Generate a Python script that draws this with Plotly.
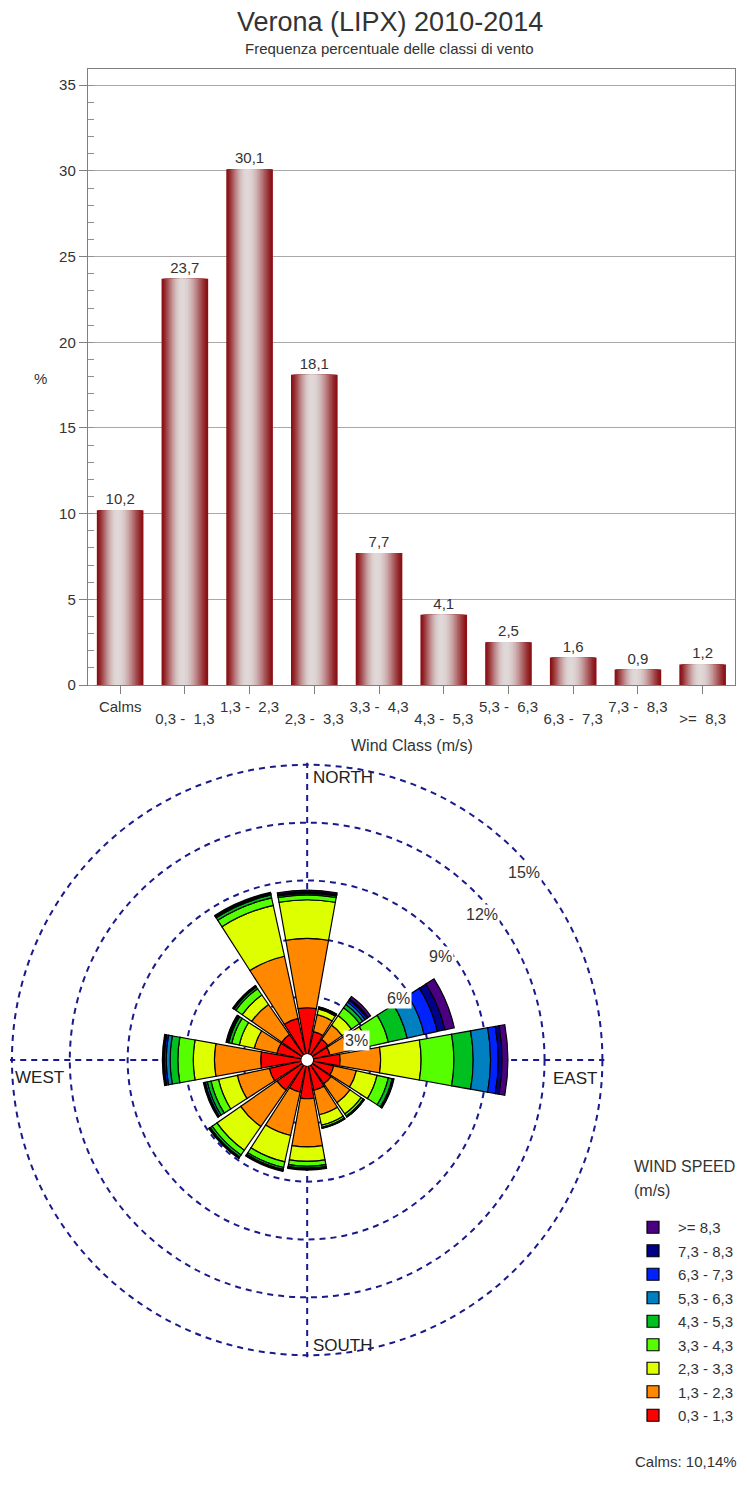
import plotly.graph_objects as go
import numpy as np

# ---------------- Bar chart data ----------------
wind_classes = ["Calms", "0,3 -  1,3", "1,3 -  2,3", "2,3 -  3,3", "3,3 -  4,3",
                "4,3 -  5,3", "5,3 -  6,3", "6,3 -  7,3", "7,3 -  8,3", ">=  8,3"]
class_freq = [10.2, 23.7, 30.1, 18.1, 7.7, 4.1, 2.5, 1.6, 0.9, 1.2]

# ---------------- Wind rose data ----------------
directions = ["N", "NNE", "NE", "ENE", "E", "ESE", "SE", "SSE",
              "S", "SSW", "SW", "WSW", "W", "WNW", "NW", "NNW"]
speed_03_13 = [2.4, 1.2, 1.0, 0.9, 1.4, 1.1, 1.2, 1.3, 1.7, 1.4, 1.6, 1.7, 2.1, 1.3, 1.3, 1.9]
speed_13_23 = [3.6, 0.9, 0.9, 1.0, 2.1, 1.2, 1.2, 1.3, 2.5, 2.3, 2.3, 1.7, 2.4, 1.2, 1.9, 3.3]
speed_23_33 = [2.0, 0.3, 0.6, 1.0, 2.1, 1.1, 0.7, 0.55, 0.75, 1.4, 1.5, 1.0, 1.1, 0.8, 0.6, 2.7]
speed_33_43 = [0.25, 0.05, 0.5, 1.1, 1.7, 0.6, 0.13, 0.12, 0.25, 0.3, 0.3, 0.4, 0.8, 0.4, 0.4, 0.4]
speed_43_53 = [0.08, 0.02, 0.2, 1.0, 1.0, 0.2, 0.04, 0.03, 0.1, 0.1, 0.12, 0.2, 0.4, 0.15, 0.1, 0.15]
speed_53_63 = [0.04, 0.01, 0.15, 0.9, 0.9, 0.05, 0.01, 0.01, 0.04, 0.04, 0.04, 0.1, 0.2, 0.06, 0.04, 0.05]
speed_63_73 = [0.03, 0.01, 0.12, 0.7, 0.4, 0.02, 0.01, 0.0, 0.02, 0.02, 0.02, 0.05, 0.1, 0.04, 0.02, 0.02]
speed_73_83 = [0.02, 0.01, 0.08, 0.4, 0.2, 0.01, 0.0, 0.0, 0.01, 0.01, 0.01, 0.02, 0.05, 0.02, 0.01, 0.02]
speed_ge_83 = [0.08, 0.02, 0.15, 0.5, 0.3, 0.02, 0.01, 0.01, 0.03, 0.03, 0.02, 0.03, 0.05, 0.03, 0.03, 0.05]

rose_series = [speed_03_13, speed_13_23, speed_23_33, speed_33_43, speed_43_53,
               speed_53_63, speed_63_73, speed_73_83, speed_ge_83]
rose_labels = ["0,3 - 1,3", "1,3 - 2,3", "2,3 - 3,3", "3,3 - 4,3", "4,3 - 5,3",
               "5,3 - 6,3", "6,3 - 7,3", "7,3 - 8,3", ">= 8,3"]
rose_colors = ["#FF0000", "#FF8800", "#DDFF00", "#55FF00", "#00C020",
               "#0080C0", "#0022FF", "#000088", "#4A0080"]
rose_ticks = [3, 6, 9, 12, 15]
calms_pct = "10,14%"

# page has an 8px body margin: figure is shrunk so that it fits the window
OFF = 8
W, H = 747 - 2 * OFF, 1497 - 2 * OFF
FONT = "Liberation Sans, Arial, sans-serif"
TXT = "#333333"


def px_x(x):
    return (x - OFF) / W


def px_y(y):
    return (H - (y - OFF)) / H


fig = go.Figure()

# ---------------- Bars with cylinder-like shading ----------------
# the lighter inner layers live on a twin x axis that carries the second row of labels
n_layers = 18
full_w = 0.72
dark = np.array([0x8A, 0x10, 0x14])
light = np.array([0xE0, 0xD8, 0xD8])
for k in range(n_layers):
    frac = 1 - k / n_layers
    w = full_w * frac
    t = k / (n_layers - 1)
    c = dark + (light - dark) * np.sin(t * np.pi / 2) ** 1.3
    col = "rgb(%d,%d,%d)" % tuple(int(v) for v in c)
    centre = -0.04 * (k / n_layers)
    kw = {}
    if k == 0:
        kw = dict(text=[("%.1f" % v).replace(".", ",") for v in class_freq],
                  textposition="outside",
                  textfont=dict(size=15, color=TXT, family=FONT),
                  cliponaxis=False)
    fig.add_trace(go.Bar(x=wind_classes, y=class_freq, width=w,
                         offset=centre - w / 2, marker=dict(color=col, line=dict(width=0)),
                         showlegend=False, hoverinfo="skip",
                         xaxis="x" if k < n_layers // 2 else "x2", yaxis="y", **kw))

# ---------------- Wind rose ----------------
n_cls = len(rose_series)
for i, (vals, lab, col) in enumerate(zip(rose_series, rose_labels, rose_colors)):
    fig.add_trace(go.Barpolar(r=vals, theta=directions, name=lab, legendgroup=lab,
                              legendrank=n_cls - i,
                              marker=dict(color=col, line=dict(color="black", width=1.2)),
                              subplot="polar"))

# category labels alternate on two rows: even ones on the main axis, odd ones on the twin axis
row1_text = [c if i % 2 == 0 else "" for i, c in enumerate(wind_classes)]
row2_text = [c if i % 2 == 1 else "" for i, c in enumerate(wind_classes)]

# rose: 15% ring must sit 296 px from the centre (308, 1060) of the page
r_max = 15.1
R = 296 * r_max / 15
cx, cy = 308, 1060

x_dom = [px_x(88), px_x(737)]

fig.update_layout(
    width=W, height=H,
    margin=dict(l=0, r=0, t=0, b=0),
    paper_bgcolor="white", plot_bgcolor="white",
    font=dict(family=FONT, size=15, color=TXT),
    barmode="overlay",
    showlegend=True,
    xaxis=dict(domain=x_dom, type="category", categoryarray=wind_classes,
               range=[-0.5, 9.5], tickvals=wind_classes, ticktext=row1_text,
               showline=True, mirror=True, linecolor="#808080", linewidth=1,
               ticks="outside", ticklen=8, tickcolor="#808080",
               tickfont=dict(size=15, color=TXT), automargin=False, fixedrange=True),
    xaxis2=dict(domain=x_dom, overlaying="x", anchor="y", side="bottom", type="category",
                categoryarray=wind_classes, range=[-0.5, 9.5],
                tickvals=wind_classes, ticktext=row2_text,
                showline=False, showgrid=False, zeroline=False, ticks="",
                ticklabelstandoff=23, tickfont=dict(size=15, color=TXT),
                automargin=False, fixedrange=True),
    yaxis=dict(domain=[px_y(685), px_y(69.3)], range=[0, 35.93], dtick=5, tick0=0,
               showgrid=True, gridcolor="#A8A8A8", gridwidth=1.3, zeroline=False,
               showline=True, mirror=True, linecolor="#808080", linewidth=1,
               ticks="outside", ticklen=8, tickcolor="#808080",
               minor=dict(dtick=1, ticks="inside", ticklen=6, tickcolor="#909090", showgrid=False),
               tickfont=dict(size=15, color=TXT), automargin=False, fixedrange=True),
    polar=dict(
        domain=dict(x=[px_x(cx - R), px_x(cx + R)], y=[px_y(cy + R), px_y(cy - R)]),
        bgcolor="white", hole=0.02, barmode="stack",
        radialaxis=dict(range=[0, r_max], tickvals=rose_ticks, showticklabels=False,
                        showline=False, ticks="",
                        gridcolor="#1A1A8C", gridwidth=1.5, griddash="6px,5px"),
        angularaxis=dict(type="category", categoryarray=directions, direction="clockwise",
                         rotation=90, tickvals=["N", "E", "S", "W"], showticklabels=False,
                         ticks="", showline=False, gridcolor="#1A1A8C", gridwidth=1.5,
                         griddash="6px,5px"),
    ),
    legend=dict(x=px_x(630), y=px_y(1211), xanchor="left", yanchor="top",
                traceorder="grouped", tracegroupgap=1, itemwidth=40,
                font=dict(size=15, color=TXT), bgcolor="rgba(0,0,0,0)"),
)

ann = [
    dict(text="Verona (LIPX) 2010-2014", x=px_x(391), y=px_y(22), font=dict(size=27, color=TXT)),
    dict(text="Frequenza percentuale delle classi di vento", x=px_x(391), y=px_y(48),
         font=dict(size=15, color=TXT)),
    dict(text="%", x=px_x(41), y=px_y(378), font=dict(size=15, color=TXT)),
    dict(text="Wind Class (m/s)", x=px_x(413), y=px_y(745), font=dict(size=16, color=TXT)),
    dict(text="NORTH", x=px_x(312), y=px_y(777), xanchor="left", font=dict(size=17, color="#222222")),
    dict(text="EAST", x=px_x(552), y=px_y(1078), xanchor="left", font=dict(size=17, color="#222222")),
    dict(text="SOUTH", x=px_x(312), y=px_y(1345), xanchor="left", font=dict(size=17, color="#222222")),
    dict(text="WEST", x=px_x(13), y=px_y(1077), xanchor="left", font=dict(size=17, color="#222222")),
    dict(text="WIND SPEED", x=px_x(634), y=px_y(1166), xanchor="left", font=dict(size=16, color=TXT)),
    dict(text="(m/s)", x=px_x(634), y=px_y(1190), xanchor="left", font=dict(size=16, color=TXT)),
    dict(text="Calms: " + calms_pct, x=px_x(635), y=px_y(1461), xanchor="left",
         font=dict(size=15, color=TXT)),
]

# ring labels: along the 45 deg diagonal, just inside each ring, offset clockwise
px_per_unit = 296 / 15
c45 = np.cos(np.pi / 4)
for v in rose_ticks:
    along = v * px_per_unit - 10
    perp = 21
    lx = cx + (along + perp) * c45
    ly = cy - (along - perp) * c45
    ann.append(dict(text="%d%%" % v, x=px_x(lx), y=px_y(ly), bgcolor="white", borderpad=1,
                    font=dict(size=16, color=TXT)))

for a in ann:
    a.setdefault("xanchor", "center")
    fig.add_annotation(xref="paper", yref="paper", showarrow=False, yanchor="middle", **a)

fig.write_html("out.html")
